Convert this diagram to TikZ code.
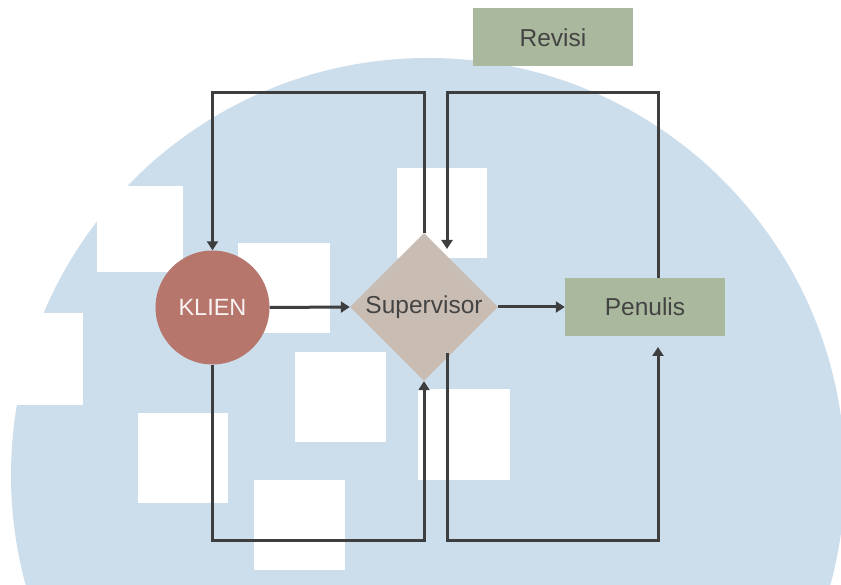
\documentclass[tikz,border=0pt]{standalone}
\usepackage{fontspec}
\setmainfont{Liberation Sans}
\usetikzlibrary{arrows.meta,shapes.geometric}
\definecolor{bgblue}{HTML}{CCDDEC}
\definecolor{klienred}{HTML}{B6766C}
\definecolor{supgray}{HTML}{C9BDB3}
\definecolor{boxgreen}{HTML}{AAB99D}
\definecolor{linegray}{HTML}{3E3E3E}
\definecolor{textdark}{HTML}{444444}
\tikzset{
  whitesq/.style={fill=white},
  klienstyle/.style={circle,fill=klienred,minimum size=114pt,inner sep=0pt,text=white!92!klienred,font=\fontsize{23.5}{26}\selectfont},
  supstyle/.style={diamond,aspect=1,fill=supgray,minimum size=148pt,inner sep=0pt,text=textdark,font=\fontsize{24.5}{27}\selectfont},
  greenbox/.style={rectangle,fill=boxgreen,minimum width=160pt,minimum height=58pt,inner sep=0pt,text=textdark,font=\fontsize{24.5}{27}\selectfont},
  arr/.style={draw=linegray,line width=3pt,-{Triangle[length=9pt,width=11pt]}},
}
\begin{document}
\begin{tikzpicture}[x=1pt,y=-1pt]
\useasboundingbox (0,0) rectangle (841,585);
\begin{scope}
\clip (0,0) rectangle (841,585);
\fill[bgblue] (428,475) circle (417pt);
\end{scope}
% white squares
\fill[whitesq] (97,186) rectangle (183,272);
\fill[whitesq] (0,313) rectangle (83,405);
\fill[whitesq] (238,243) rectangle (330,333);
\fill[whitesq] (295,352) rectangle (386,442);
\fill[whitesq] (138,413) rectangle (228,503);
\fill[whitesq] (254,480) rectangle (345,570);
\fill[whitesq] (397,168) rectangle (487,258);
\fill[whitesq] (418,389) rectangle (510,480);
% nodes
\node[klienstyle] (k) at (212.5,307.5) {KLIEN};
\node[supstyle] (s) at (424,307) {Supervisor};
\node[greenbox] (p) at (645,307) {Penulis};
\node[greenbox] (r) at (553,37.5) {Revisi};
% helper coordinates
\coordinate (top) at (0,93);
\coordinate (bot) at (0,540);
\coordinate (s1) at (447,353);
\coordinate (e2) at (447,249);
\coordinate (pt) at (658,278);
\coordinate (pb) at (658,347);
% connectors
\draw[arr] (k.east) -- (s.west);
\draw[arr] (s.east) -- (p.west);
\draw[arr] (s.north) -- (s.north |- top) -| (k.north);
\draw[arr] (pt) -- (pt |- top) -| (e2);
\draw[arr] (k.south) -- (k.south |- bot) -| (s.south);
\draw[arr] (s1) -- (s1 |- bot) -| (pb);
\end{tikzpicture}
\end{document}
